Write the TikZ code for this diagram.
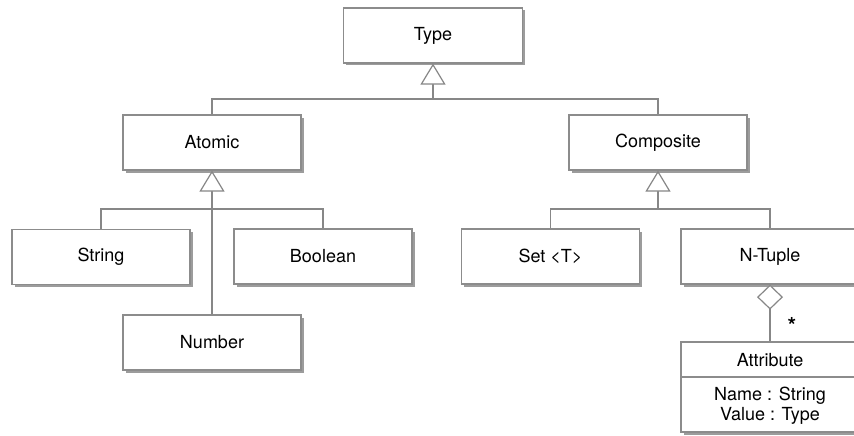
\documentclass[tikz,border=0pt]{standalone}
\usepackage{fontspec}
\setmainfont{TeX Gyre Heros}
\usetikzlibrary{arrows.meta,shadows}
\definecolor{edgegray}{RGB}{140,140,140}
\definecolor{linegray}{RGB}{135,135,135}
\tikzset{
  umlbox/.style={draw=edgegray, line width=1.2pt, fill=white, minimum width=178pt, minimum height=55pt,
    inner sep=0pt, font=\fontsize{18}{21}\selectfont,
    drop shadow={shadow xshift=2.5pt, shadow yshift=-2.5pt, fill=black!55, opacity=0.7}},
  conn/.style={draw=linegray, line width=1.2pt},
  gen/.style={conn, -{Triangle[open, fill=white, length=21pt 0 0, width=25pt 0 0]}},
  agg/.style={conn, {Diamond[open, fill=white, length=25pt 0 0, width=26pt 0 0]}-},
  lbl/.style={font=\fontsize{18}{21}\selectfont, inner sep=0pt}
}
\begin{document}
\begin{tikzpicture}[x=1pt,y=-1pt]
\useasboundingbox[fill=white] (0,0) rectangle (854,436);
\node[umlbox, minimum width=179pt] (type) at (433,35.5) {Type};
\node[umlbox] (atomic) at (212,142.5) {Atomic};
\node[umlbox] (composite) at (658,142.5) {Composite};
\node[umlbox] (string) at (101,257) {String};
\node[umlbox] (boolean) at (323,256.5) {Boolean};
\node[umlbox] (set) at (550.5,256.5) {Set <T>};
\node[umlbox] (ntuple) at (770,256.5) {N-Tuple};
\node[umlbox] (number) at (212,342.5) {Number};
\node[umlbox, minimum height=90pt] (attr) at (770,387) {};
\coordinate (sepL) at (681,377);
\coordinate (sepR) at (859,377);
\draw[conn, draw=edgegray] (sepL) -- (sepR);
\node[lbl] (attrname) at (770,360) {Attribute};
\node[lbl] (attr1) at (770,396) {Name : String};
\node[lbl] (attr2) at (770,416) {Value : Type};
\coordinate (tj) at (433,99);
\coordinate (aj) at (212,209);
\coordinate (cj) at (658,209);
\draw[conn] (atomic.north) |- (tj) -| (composite.north);
\draw[gen] (tj) -- (type.south);
\draw[conn] (string.north) |- (aj) -| (boolean.north);
\draw[gen] (number.north) -- (atomic.south);
\draw[conn] (set.north) |- (cj) -| (ntuple.north);
\draw[gen] (cj) -- (composite.south);
\draw[agg] (ntuple.south) -- (attr.north);
\node[lbl, font=\fontsize{22}{22}\selectfont\bfseries] (star) at (792,325) {*};
\end{tikzpicture}
\end{document}
